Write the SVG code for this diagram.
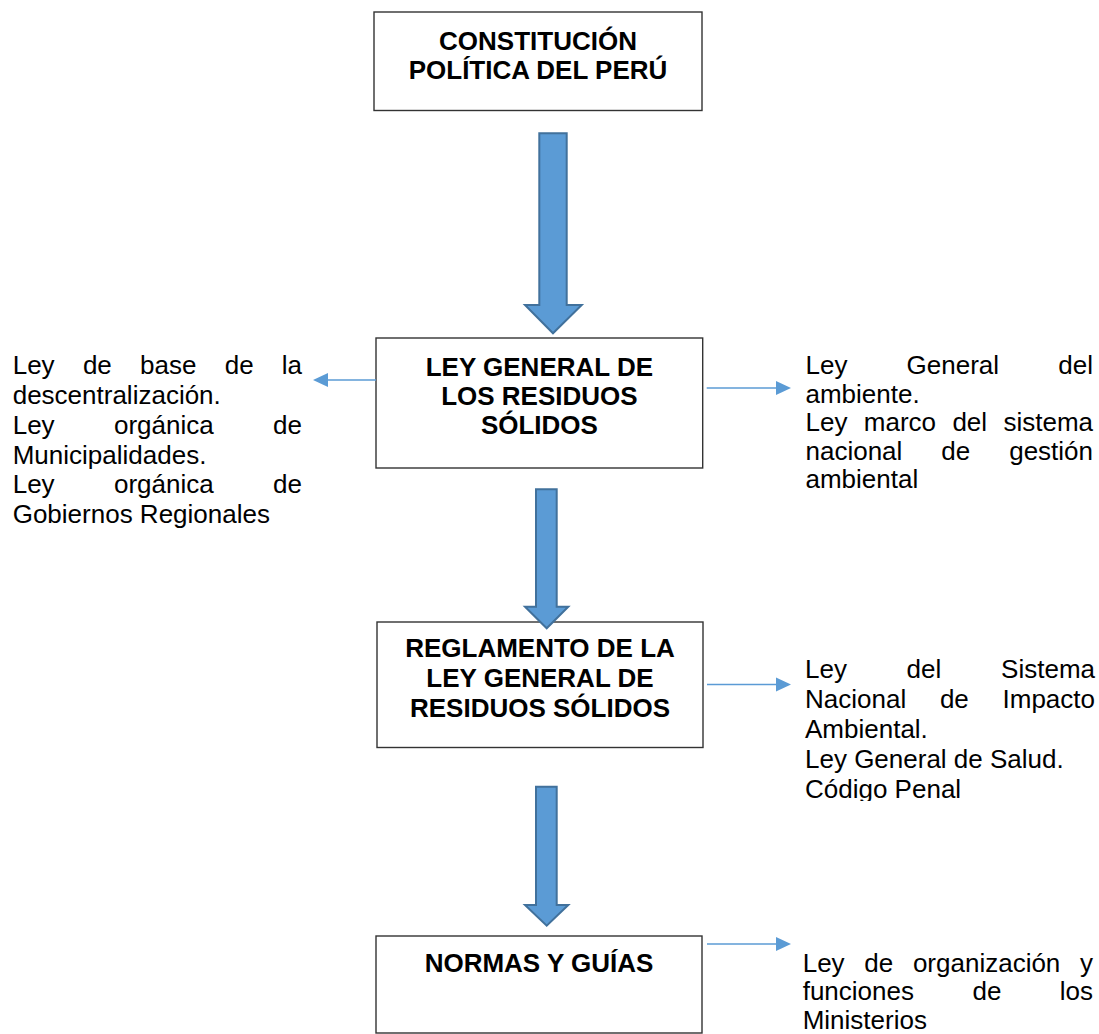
<svg xmlns="http://www.w3.org/2000/svg" width="1099" height="1034" viewBox="0 0 1099 1034">
<style>
.box{fill:#fff;stroke:#333;stroke-width:1.4}
.bt{font-family:"Liberation Sans",Arial,sans-serif;font-weight:bold;font-size:26px;fill:#000;text-anchor:middle}
.st{font-family:"Liberation Sans",Arial,sans-serif;font-size:26px;fill:#000}
.big{fill:#5B9BD5;stroke:#41719C;stroke-width:2;stroke-linejoin:miter}
.thin{stroke:#5B9BD5;stroke-width:1.4;fill:none}
.head{fill:#5B9BD5}
</style>
<defs>
<clipPath id="clipR2"><rect x="790" y="640" width="309" height="161"/></clipPath>
</defs>
<rect width="1099" height="1034" fill="#fff"/>
<g id="node-constitucion">
<rect class="box" x="374" y="12" width="328" height="98.5"/>
<text class="bt" x="538" y="50">CONSTITUCIÓN</text>
<text class="bt" x="538" y="78.5">POLÍTICA DEL PERÚ</text>
</g>
<g id="node-ley-general">
<rect class="box" x="376" y="338" width="326.7" height="130"/>
<text class="bt" x="539.4" y="376">LEY GENERAL DE</text>
<text class="bt" x="539.4" y="405">LOS RESIDUOS</text>
<text class="bt" x="539.4" y="434">SÓLIDOS</text>
</g>
<g id="node-reglamento">
<rect class="box" x="377" y="622" width="326" height="125.5"/>
<text class="bt" x="540" y="657">REGLAMENTO DE LA</text>
<text class="bt" x="540" y="687">LEY GENERAL DE</text>
<text class="bt" x="540" y="717">RESIDUOS SÓLIDOS</text>
</g>
<g id="node-normas">
<rect class="box" x="376" y="936" width="326" height="97"/>
<text class="bt" x="539" y="972">NORMAS Y GUÍAS</text>
</g>
<g id="text-left">
<text class="st" y="374"><tspan x="12.7">Ley</tspan><tspan x="82.9">de</tspan><tspan x="140">base</tspan><tspan x="224.7">de</tspan><tspan x="281.8">la</tspan></text>
<text class="st" x="12.7" y="404">descentralización.</text>
<text class="st" y="434"><tspan x="12.7">Ley</tspan><tspan x="114">orgánica</tspan><tspan x="273.1">de</tspan></text>
<text class="st" x="12.7" y="463.5">Municipalidades.</text>
<text class="st" y="493"><tspan x="12.7">Ley</tspan><tspan x="114">orgánica</tspan><tspan x="273.1">de</tspan></text>
<text class="st" x="12.7" y="523">Gobiernos Regionales</text>
</g>
<g id="text-right-1">
<text class="st" y="374"><tspan x="805.5">Ley</tspan><tspan x="906.6">General</tspan><tspan x="1058.3">del</tspan></text>
<text class="st" x="805.5" y="402.6">ambiente.</text>
<text class="st" y="431.2"><tspan x="805.5">Ley</tspan><tspan x="863.8">marco</tspan><tspan x="952.4">del</tspan><tspan x="1003.5">sistema</tspan></text>
<text class="st" y="459.8"><tspan x="805.5">nacional</tspan><tspan x="941.3">de</tspan><tspan x="1009.2">gestión</tspan></text>
<text class="st" x="805.5" y="488.4">ambiental</text>
</g>
<g id="text-right-2" clip-path="url(#clipR2)">
<text class="st" y="678"><tspan x="805">Ley</tspan><tspan x="906.6">del</tspan><tspan x="1001.1">Sistema</tspan></text>
<text class="st" y="708"><tspan x="805">Nacional</tspan><tspan x="939.9">de</tspan><tspan x="1002.5">Impacto</tspan></text>
<text class="st" x="805" y="738">Ambiental.</text>
<text class="st" x="805" y="768">Ley General de Salud.</text>
<text class="st" x="805" y="798">Código Penal</text>
</g>
<g id="text-right-3">
<text class="st" y="972"><tspan x="802.7">Ley</tspan><tspan x="864.3">de</tspan><tspan x="912.9">organización</tspan><tspan x="1080">y</tspan></text>
<text class="st" y="1000.3"><tspan x="802.7">funciones</tspan><tspan x="972.5">de</tspan><tspan x="1059.8">los</tspan></text>
<text class="st" x="802.7" y="1028.6">Ministerios</text>
</g>
<g id="connectors">
<polygon class="big" points="539.3,133.3 566.7,133.3 566.7,305 581.7,305 553,333.3 525,305 539.3,305"/>
<polygon class="big" points="536,489.3 556.7,489.3 556.7,606.7 568.3,606.7 546.7,628.3 525,606.7 536,606.7"/>
<polygon class="big" points="536,786.7 556.7,786.7 556.7,905 568.3,905 546.7,925.7 525,905 536,905"/>
<line class="thin" x1="376" y1="380" x2="326" y2="380"/>
<polygon class="head" points="313,380 328,373 328,387"/>
<line class="thin" x1="706.7" y1="388" x2="778" y2="388"/>
<polygon class="head" points="791,388 776,381 776,395"/>
<line class="thin" x1="707" y1="684.5" x2="778" y2="684.5"/>
<polygon class="head" points="791,684.5 776,677.5 776,691.5"/>
<line class="thin" x1="707" y1="944" x2="778" y2="944"/>
<polygon class="head" points="791,944 776,937 776,951"/>
</g>
</svg>
